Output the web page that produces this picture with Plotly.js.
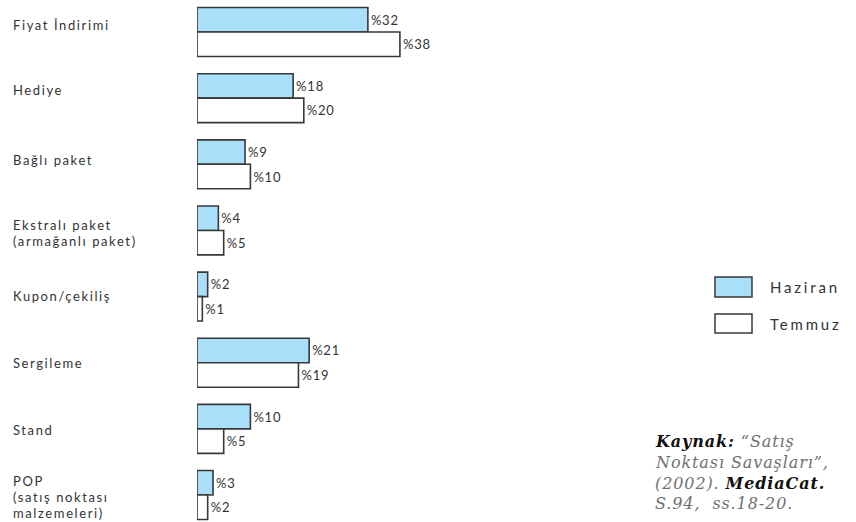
<!DOCTYPE html>
<html>
<head>
<meta charset="utf-8">
<script src="https://cdn.plot.ly/plotly-3.0.1.min.js"></script>
<style>
  html, body { margin: 0; padding: 0; background: #fff; }
  #chart { width: 856px; height: 522px; }
  /* tracked lettering, keyed on the font size of each text group */
  text[style*="font-size: 13px"] { letter-spacing: 1.6px; }
  text[style*="font-size: 15px"] { letter-spacing: 2.8px; }
  text[style*="font-size: 16px"] { letter-spacing: 0.9px; }
  text.bartext { letter-spacing: 0.8px; }
</style>
</head>
<body>
<div id="chart"></div>
<script>
// Satış promosyonu türleri: Haziran ve Temmuz payları (%)
const categories = [
  'Fiyat İndirimi',
  'Hediye',
  'Bağlı paket',
  'Ekstralı paket<br>(armağanlı paket)',
  'Kupon/çekiliş',
  'Sergileme',
  'Stand',
  'POP<br>(satış noktası<br>malzemeleri)'
];
const haziran = [32, 18, 9, 4, 2, 21, 10, 3];
const temmuz  = [38, 20, 10, 5, 1, 19, 5, 2];
const seriesNames = ['Haziran', 'Temmuz'];

// label placement: downward nudge (px) of each category label, and line pitch
const labelShift = [-7, -8, -4, 2.5, -0.5, 0.5, 1.5, 2];
const linePitch = 15.7;

const LEFT = 197, W = 856, H = 522;
const plotW = W - LEFT;
const px = x => (x - LEFT) / plotW;     // page x -> paper x
const py = y => 1 - y / H;              // page y -> paper y

const blue = '#a9dff8';
const edge = '#383838';
const txt = '#333333';
const sans = 'Lato, "Open Sans", sans-serif';
const labelFont = { family: sans, size: 13, color: txt };
const valueFont = { family: sans, size: 13, color: txt };

const ids = categories.map((c, i) => i);

function barTrace(name, vals, fill) {
  return {
    type: 'bar',
    orientation: 'h',
    name: name,
    y: ids,
    x: vals,
    text: vals.map(v => '%' + v),
    textposition: 'outside',
    cliponaxis: false,
    textfont: valueFont,
    marker: { color: fill, line: { color: edge, width: 1.6 } },
    hoverinfo: 'skip'
  };
}

const data = [
  barTrace(seriesNames[0], haziran, blue),
  barTrace(seriesNames[1], temmuz, '#ffffff')
];

const annotations = [];

// category labels, one annotation per line
categories.forEach((c, i) => {
  const lines = c.split('<br>');
  lines.forEach((ln, k) => {
    const off = (k - (lines.length - 1) / 2) * linePitch + labelShift[i];
    annotations.push({
      xref: 'paper', yref: 'y',
      x: px(11), y: i,
      xanchor: 'left', yanchor: 'middle',
      text: ln, showarrow: false,
      yshift: -off,
      font: labelFont
    });
  });
});

// legend entries
const legendFont = { family: sans, size: 15, color: txt };
[[seriesNames[0], 287], [seriesNames[1], 324]].forEach(([t, y]) => {
  annotations.push({ xref: 'paper', yref: 'paper', x: px(768), y: py(y),
    xanchor: 'left', yanchor: 'middle', text: t, showarrow: false, font: legendFont });
});

// source note
const srcFont = { family: '"DejaVu Serif", serif', size: 16, color: '#707070' };
const dark = s => '<b><span style="color:#111111">' + s + '</span></b>';
const srcLines = [
  dark('Kaynak:') + ' “Satış',
  'Noktası Savaşları”,',
  '(2002). ' + dark('MediaCat.'),
  'S.94,  ss.18-20.'
];
const srcY = [441, 462, 483, 503];
srcLines.forEach((s, i) => {
  annotations.push({
    xref: 'paper', yref: 'paper', x: px(653), y: py(srcY[i]),
    xanchor: 'left', yanchor: 'middle', align: 'left',
    text: '<i>' + s + '</i>', showarrow: false, font: srcFont
  });
});

const shapes = [
  { type: 'rect', xref: 'paper', yref: 'paper',
    x0: px(715), x1: px(752), y0: py(297), y1: py(277),
    fillcolor: blue, line: { color: edge, width: 1.5 } },
  { type: 'rect', xref: 'paper', yref: 'paper',
    x0: px(715), x1: px(752), y0: py(333), y1: py(314),
    fillcolor: '#ffffff', line: { color: edge, width: 1.5 } }
];

const unit = 5.34; // px per percentage point
const layout = {
  width: W, height: H,
  margin: { l: LEFT, r: 0, t: 0, b: 0, pad: 0 },
  paper_bgcolor: '#ffffff',
  plot_bgcolor: '#ffffff',
  barmode: 'group',
  bargap: 0.26,
  bargroupgap: 0,
  showlegend: false,
  xaxis: { range: [0, plotW / unit], visible: false, fixedrange: true },
  yaxis: { range: [7.408, -0.484], visible: false, fixedrange: true },
  annotations: annotations,
  shapes: shapes
};

Plotly.newPlot('chart', data, layout, { displayModeBar: false, staticPlot: true });
</script>
</body>
</html>
